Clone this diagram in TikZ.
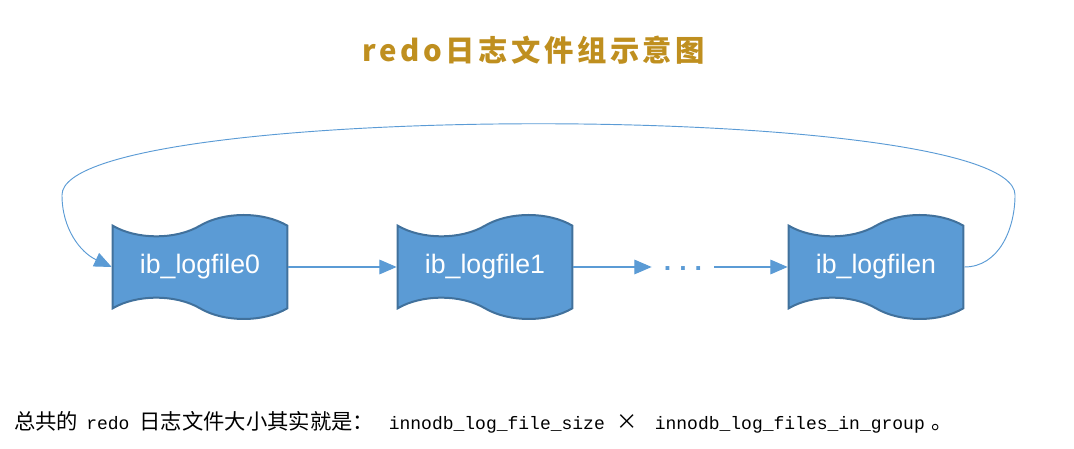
\documentclass[tikz,border=0pt]{standalone}
\usepackage{fontspec}
\setmainfont{Liberation Sans}
\setmonofont{Liberation Mono}
\newfontfamily\cjkfont{Noto Sans CJK SC}
\newfontfamily\cjktitle[LetterSpace=12]{Noto Sans CJK SC}
\usetikzlibrary{arrows.meta, positioning, shapes.symbols}
\definecolor{tapeblue}{HTML}{5B9BD5}
\definecolor{tapeedge}{HTML}{41719C}
\definecolor{linkblue}{HTML}{5B9BD5}
\definecolor{titlegold}{HTML}{BF8F1F}
\newcommand{\codetext}[1]{{\ttfamily\fontsize{13.5}{16}\selectfont #1}}
\tikzset{
  logtape/.style   = {tape, draw=tapeedge, fill=tapeblue, line width=1.5pt,
                      minimum width=131pt, minimum height=78pt,
                      tape bend top=in and out, tape bend bottom=out and in,
                      tape bend height=16pt, inner sep=0pt, text=white,
                      font=\fontsize{20}{24}\selectfont},
  logarrow/.style  = {draw=linkblue, line width=0.9pt,
                      -{Triangle[length=13pt, width=11pt]}},
  loopline/.style  = {logarrow, line width=0.7pt},
  dotsnode/.style  = {text=linkblue, font=\bfseries\fontsize{20}{24}\selectfont,
                      inner xsep=9pt, inner ysep=2pt},
  titletext/.style = {text=titlegold, font=\cjktitle\bfseries\fontsize{22}{26}\selectfont},
  notetext/.style  = {font=\cjkfont\fontsize{16}{19}\selectfont, inner sep=0pt},
}

\begin{document}
\begin{tikzpicture}[x=0.75pt, y=0.75pt]
  \useasboundingbox (0,0) rectangle (1074,449);
  \node[titletext] (title) at (534,399) {redo日志文件组示意图};

  \node[logtape] (box0) at (200,182) {ib\_logfile0};
  \node[logtape] (box1) at (485,182) {ib\_logfile1};
  \node[dotsnode] (dots) at (683,180) {.\hspace{6pt}.\hspace{6pt}.};
  \node[logtape] (boxn) at (876,182) {ib\_logfilen};

  \coordinate (loopR) at (1015,254);
  \coordinate (loopL) at (62,254);

  \draw[logarrow] (box0.east) -- (box1.west);
  \draw[logarrow] (box1.east) -- (box1.east -| dots.west);
  \draw[logarrow] (box1.east -| dots.east) -- (boxn.west);
  % back from the last file to the first one
  \draw[loopline] (boxn.east) to[out=0, in=-90] (loopR)
    .. controls +(0,95) and +(0,95) .. (loopL)
    to[out=-90, in=155] (box0.west);

  \node[notetext, anchor=base west] (note) at (14,19)
    {总共的\hspace{6pt}\codetext{redo}\hspace{7.5pt}日志文件大小其实就是：\hspace{11pt}\codetext{innodb\_log\_file\_size}\hspace{9pt}×\hspace{12.5pt}\codetext{innodb\_log\_files\_in\_group}\hspace{5pt}。};
\end{tikzpicture}
\end{document}
